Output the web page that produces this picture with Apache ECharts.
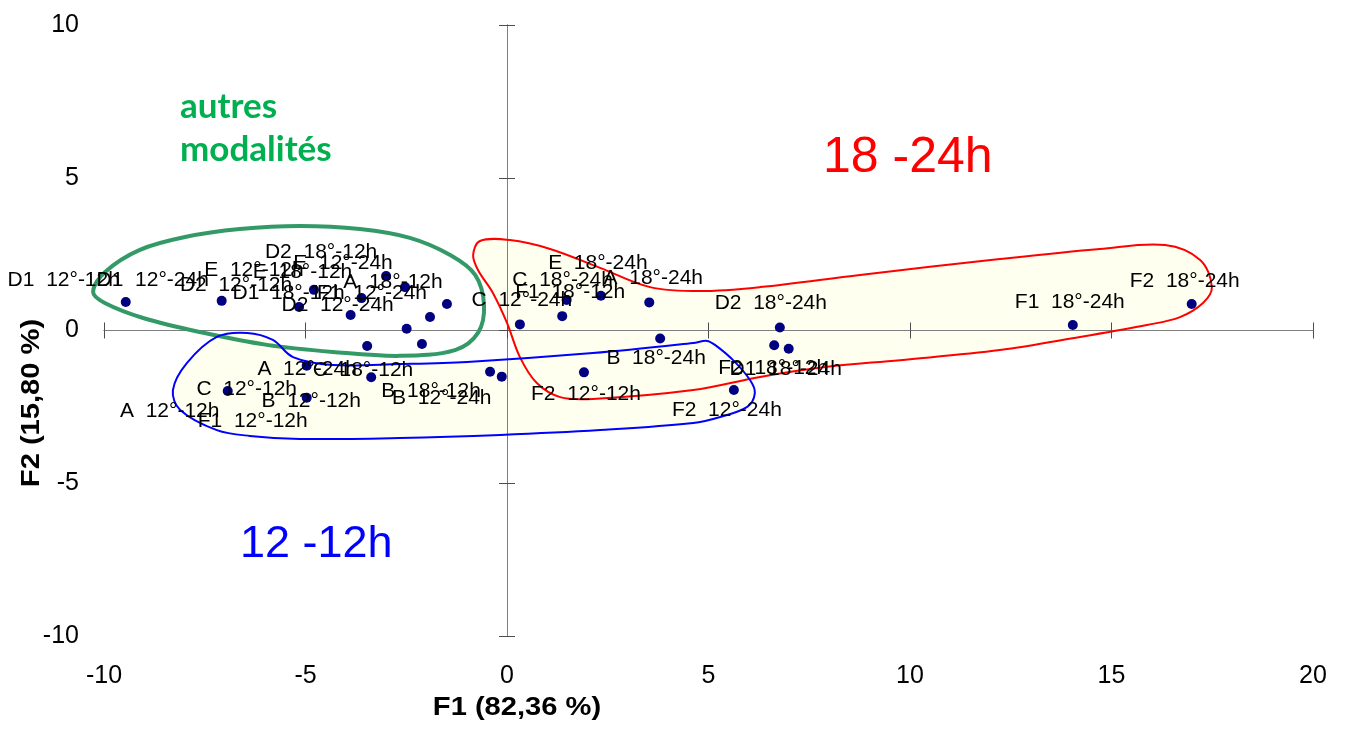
<!DOCTYPE html>
<html>
<head>
<meta charset="utf-8">
<script src="https://cdn.jsdelivr.net/npm/echarts@6/dist/echarts.min.js"></script>
<style>
html,body{margin:0;padding:0;background:#ffffff;}
#chart{width:1345px;height:742px;}
</style>
</head>
<body>
<div id="chart"></div>
<script>
// ---------- data ----------
const modalities = [
  'D1  12°-12h','D1  12°-24h','D2  12°-12h','E  12°-12h','D1  18°-12h','E  18°-12h',
  'D2  18°-12h','E  12°-24h','D2  12°-24h','F1  12°-24h','A  18°-12h',
  'A  12°-12h','C  12°-12h','F1  12°-12h','B  12°-12h','A  12°-24h','C  18°-12h',
  'B  18°-12h','B  12°-24h','F2  12°-12h','F2  12°-24h',
  'C  12°-24h','F1  18°-12h','C  18°-24h','E  18°-24h','A  18°-24h','B  18°-24h',
  'D2  18°-24h','F2  18°-12h','D1  18°-24h','F1  18°-24h','F2  18°-24h'
];
const f1Values = [
  -9.46,-7.08,-5.16,-4.79,-3.88,-3.61,-3.00,-2.53,-2.49,-1.91,-1.49,
  -6.93,-4.97,-4.97,-3.37,-3.47,-2.11,-0.42,-0.13,1.91,5.63,
  0.32,1.37,1.48,2.33,3.53,3.80,6.77,6.63,6.99,14.04,16.99
];
const f2Values = [
  0.93,0.97,0.77,1.33,0.51,1.06,1.78,1.42,0.06,0.44,0.87,
  -1.98,-1.15,-2.20,-1.53,-0.51,-0.44,-1.35,-1.51,-1.37,-1.95,
  0.20,0.47,1.00,1.14,0.92,-0.26,0.10,-0.48,-0.60,0.18,0.87
];
const xTickLabels = [-10,-5,0,5,10,15,20];
const yTickLabels = [-10,-5,0,5,10];

// group outlines (data coordinates)
const greenContour = [
  [-10.27,1.26],[-9.98,1.91],[-9.11,2.64],[-7.99,3.06],[-6.63,3.32],[-5.14,3.42],[-3.65,3.32],
  [-2.41,3.03],[-1.41,2.47],[-0.79,1.82],[-0.57,0.83],[-0.72,-0.08],[-1.29,-0.64],[-2.66,-0.83],
  [-4.32,-0.70],[-5.96,-0.47],[-7.62,-0.05],[-9.03,0.41],[-9.98,0.90]
];
const redContour = [
  [-0.84,2.47],[-0.67,2.93],[0.07,2.96],[1.07,2.67],[2.31,2.05],[3.55,1.42],[4.79,1.29],[6.28,1.42],
  [8.76,1.82],[12.23,2.34],[14.71,2.67],[16.33,2.80],[17.20,2.31],[17.49,1.42],[17.27,0.90],
  [16.70,0.44],[15.88,0.18],[14.22,-0.21],[12.23,-0.64],[9.75,-0.97],[7.94,-1.19],[6.28,-1.52],
  [4.62,-1.95],[2.13,-2.24],[1.32,-2.18],[0.74,-1.72],[0.32,-0.87],[0.00,0.25],[-0.35,1.23],[-0.72,1.98]
];
const blueContour = [
  [-6.45,-0.08],[-5.81,-0.31],[-5.31,-0.87],[-4.32,-1.13],[-2.66,-1.10],[-0.99,-1.03],[2.13,-0.74],
  [4.62,-0.41],[4.96,-0.34],[5.16,-0.47],[5.61,-0.97],[6.03,-1.62],[6.15,-2.05],[5.96,-2.50],
  [5.29,-2.83],[4.62,-3.03],[2.31,-3.26],[-0.17,-3.42],[-2.66,-3.52],[-5.14,-3.55],[-6.38,-3.45],
  [-7.20,-3.26],[-8.11,-2.60],[-8.29,-1.95],[-7.94,-1.06],[-7.20,-0.21]
];

// ---------- styling (label displacement in px, as in the source chart) ----------
const labelShift = [
  [-62,-22],[-69,-21],[-63,-22],[-60,-20],[-62,-22],[-59,-26],[-65,-24],[-62,-24],[-69,-23],[-58,-24],[-54,-22],
  [-58,20],[-60,24],[-54,23],[-60,24],[-60,23],[-59,26],[-59,19],[-60,22],[2,22],[-7,20],
  [2,-24],[8,-24],[-4,-20],[-3,-32],[4,-24],[-4,20],[-9,-24],[-1,23],[-3,20],[-3,-23],[-7,-23]
];

const FONT = '"Liberation Sans", Arial, sans-serif';
const chart = echarts.init(document.getElementById('chart'), null, {renderer: 'canvas'});

const scatterData = modalities.map((name, i) => ({
  name: name,
  value: [f1Values[i], f2Values[i]],
  label: {offset: labelShift[i]}
}));

const outlines = [
  {pts: greenContour, stroke: '#339966', width: 4, fill: null},
  {pts: redContour, stroke: '#ff0000', width: 2, fill: '#fffff0'},
  {pts: blueContour, stroke: '#0000ff', width: 2, fill: '#fffff0'}
];

function outlineRenderer(mode) {
  return function (params, api) {
    const o = outlines[params.dataIndex];
    if (mode === 'fill' && !o.fill) return null;
    const pts = o.pts.map(p => api.coord(p));
    return {
      type: 'polygon',
      shape: {points: pts, smooth: 0.35},
      silent: true,
      style: mode === 'fill'
        ? {fill: o.fill, stroke: null}
        : {fill: null, stroke: o.stroke, lineWidth: o.width}
    };
  };
}

const lineColor = '#7f7f7f';
const tickColor = '#4d4d4d';
const xMin = xTickLabels[0], xMax = xTickLabels[xTickLabels.length - 1];
const yMin = yTickLabels[0], yMax = yTickLabels[yTickLabels.length - 1];
const xInt = xTickLabels[1] - xTickLabels[0];
const yInt = yTickLabels[1] - yTickLabels[0];

function labelAxis(pos, margin) {
  return {
    type: 'value', position: pos,
    min: pos === 'bottom' ? xMin : yMin, max: pos === 'bottom' ? xMax : yMax,
    interval: pos === 'bottom' ? xInt : yInt,
    axisLine: {show: false, onZero: false}, axisTick: {show: false}, splitLine: {show: false},
    axisLabel: {show: true, margin: margin, fontSize: 25, color: '#000', fontFamily: FONT}
  };
}
function lineAxis(pos, inside) {
  return {
    type: 'value', position: pos, z: 1,
    min: pos === 'bottom' ? xMin : yMin, max: pos === 'bottom' ? xMax : yMax,
    interval: pos === 'bottom' ? xInt : yInt,
    axisLine: {show: true, onZero: true, onZeroAxisIndex: 0, lineStyle: {color: lineColor, width: 1}},
    axisTick: {show: true, inside: inside, length: 8, lineStyle: {color: tickColor, width: 1}},
    axisLabel: {show: false}, splitLine: {show: false}
  };
}

const option = {
  backgroundColor: '#ffffff',
  animation: false,
  grid: {left: 104, right: 32, top: 25, bottom: 106},
  xAxis: [labelAxis('bottom', 28), lineAxis('bottom', false), lineAxis('bottom', true)],
  yAxis: [labelAxis('left', 25), lineAxis('left', false), lineAxis('left', true)],
  series: [
    {
      type: 'custom', coordinateSystem: 'cartesian2d', xAxisIndex: 0, yAxisIndex: 0,
      z: 0, silent: true, clip: false,
      renderItem: outlineRenderer('fill'),
      data: outlines.map(() => [0, 0])
    },
    {
      type: 'custom', coordinateSystem: 'cartesian2d', xAxisIndex: 0, yAxisIndex: 0,
      z: 2, silent: true, clip: false,
      renderItem: outlineRenderer('stroke'),
      data: outlines.map(() => [0, 0])
    },
    {
      type: 'scatter', xAxisIndex: 0, yAxisIndex: 0, z: 3,
      symbol: 'circle', symbolSize: 10,
      itemStyle: {color: '#000080', opacity: 1},
      label: {
        show: true, position: 'inside', formatter: '{b}',
        color: '#000000', fontSize: 21, fontFamily: FONT,
        textBorderWidth: 0, textBorderColor: 'transparent'
      },
      data: scatterData
    }
  ],
  graphic: [
    {type: 'text', x: 180, y: 107, z: 10, style: {text: 'autres', font: 'bold 35px Lato', fill: '#00b050', align: 'left', verticalAlign: 'middle'}},
    {type: 'text', x: 180, y: 150, z: 10, style: {text: 'modalités', font: 'bold 35px Lato', fill: '#00b050', align: 'left', verticalAlign: 'middle'}},
    {type: 'text', x: 823, y: 158, z: 10, style: {text: '18 -24h', font: '50px ' + FONT, fill: '#ff0000', align: 'left', verticalAlign: 'middle'}},
    {type: 'text', x: 240, y: 545, z: 10, style: {text: '12 -12h', font: '45px ' + FONT, fill: '#0000ff', align: 'left', verticalAlign: 'middle'}},
    {type: 'text', x: 517, y: 708, scaleX: 1.12, z: 10, style: {text: 'F1 (82,36 %)', font: 'bold 26px ' + FONT, fill: '#000', align: 'center', verticalAlign: 'middle'}},
    {type: 'text', x: 32, y: 403, rotation: Math.PI / 2, scaleX: 1.12, z: 10, style: {text: 'F2 (15,80 %)', font: 'bold 26px ' + FONT, fill: '#000', align: 'center', verticalAlign: 'middle'}}
  ]
};
chart.setOption(option);
</script>
</body>
</html>
